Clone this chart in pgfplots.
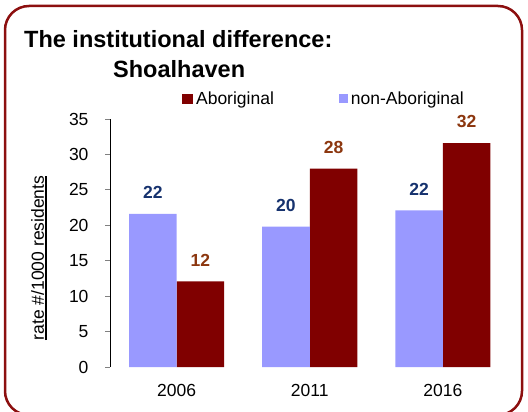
\documentclass[border=0pt]{standalone}
\usepackage{pgfplots}
\pgfplotsset{compat=1.18}
\usepackage{fontspec}
\setmainfont{Liberation Sans}
\definecolor{abo}{RGB}{128,0,0}
\definecolor{nonabo}{RGB}{153,153,255}
\definecolor{navy}{RGB}{22,50,110}
\definecolor{brownlab}{RGB}{140,55,15}
\definecolor{framecol}{RGB}{140,15,15}
\newcommand\lab{\fontsize{17.5bp}{21bp}\selectfont}
\newcommand\thickul[1]{\vtop{\hbox{#1}\kern1.5bp\hrule height 1.5bp}}
\begin{document}
\begin{tikzpicture}[x=1bp,y=1bp]
\draw[framecol, line width=2.5bp, rounded corners=24bp] (5,-4) rectangle (522,405);
\node[anchor=base west, inner sep=0pt, font=\fontsize{23.5bp}{28bp}\selectfont\bfseries] at (24,364) {The institutional difference:};
\node[anchor=base west, inner sep=0pt, font=\fontsize{23.5bp}{28bp}\selectfont\bfseries] at (113,334) {Shoalhaven};
\begin{axis}[
  at={(110bp,44bp)}, anchor=south west,
  scale only axis, width=399.5bp, height=248bp,
  xmin=-0.5, xmax=2.5, ymin=0, ymax=35,
  axis y line*=left, axis x line*=bottom,
  x axis line style={draw=none},
  y axis line style={black, line width=0.8bp},
  xtick={0,1,2}, xticklabels={2006,2011,2016},
  ytick={0,5,...,35},
  tick align=outside, major tick length=5bp,
  x tick style={draw=none}, y tick style={gray, line width=0.8bp},
  tick label style={font=\lab},
  /pgf/number format/assume math mode=true,
  yticklabel style={xshift=-13bp},
  xticklabel style={yshift=-9bp},
  ylabel={\thickul{rate \#/1000 residents}},
  ylabel style={at={(axis description cs:-0.1777,0.44)}, anchor=center, font=\lab},
  clip=false,
  bar width=0.357,
  nodes near coords={\pgfmathprintnumber[fixed,precision=0]{\pgfplotspointmeta}},
  every node near coord/.append style={font=\lab\bfseries, anchor=south, inner sep=0pt, yshift=15bp},
  legend columns=2,
  legend style={draw=none, fill=none, at={(axis description cs:0.18,1)}, anchor=west, yshift=20bp,
    font=\lab, inner sep=0pt, nodes={inner sep=3bp},
    /tikz/every even column/.append style={column sep=62bp}},
]
\addplot[ybar, bar shift=0.1785, bar width=0.357, fill=abo, draw=none,
  every node near coord/.append style={text=brownlab, xshift=23.8bp},
  legend image code/.code={\fill[abo] (0bp,-5bp) rectangle (11bp,5bp);}]
  coordinates {(0,12.1) (1,28.0) (2,31.6)};
\addplot[ybar, bar shift=-0.1785, bar width=0.357, fill=nonabo, draw=none,
  every node near coord/.append style={text=navy, xshift=-23.8bp},
  legend image code/.code={\fill[nonabo] (0bp,-4.5bp) rectangle (9bp,4.5bp);}]
  coordinates {(0,21.6) (1,19.8) (2,22.1)};
\legend{Aboriginal, non-Aboriginal}
\end{axis}
\pgfresetboundingbox
\path[use as bounding box] (0,0) rectangle (528,411);
\end{tikzpicture}
\end{document}
